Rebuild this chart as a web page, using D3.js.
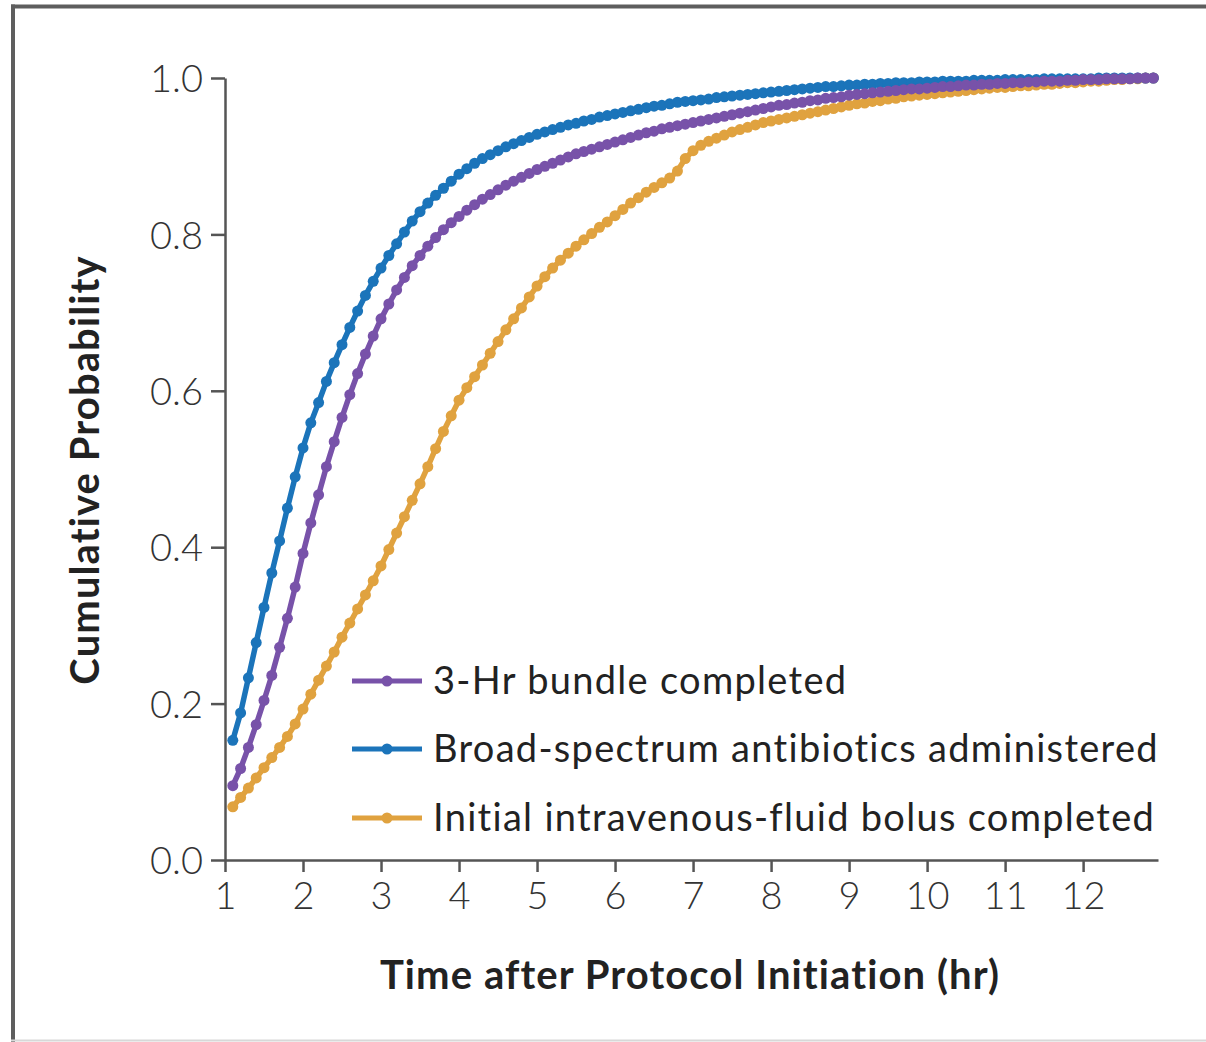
<!DOCTYPE html>
<html>
<head>
<meta charset="utf-8">
<script src="https://cdn.jsdelivr.net/npm/d3@7"></script>
<style>
  html, body { margin: 0; padding: 0; background: #fff; }
  svg { display: block; }
</style>
</head>
<body>
<div id="canvas"></div>
<script>
// hours after protocol initiation, one sample every 0.1 hr
const hours = [
  1.1, 1.2, 1.3, 1.4, 1.5, 1.6, 1.7, 1.8, 1.9,
  2.0, 2.1, 2.2, 2.3, 2.4, 2.5, 2.6, 2.7, 2.8, 2.9,
  3.0, 3.1, 3.2, 3.3, 3.4, 3.5, 3.6, 3.7, 3.8, 3.9,
  4.0, 4.1, 4.2, 4.3, 4.4, 4.5, 4.6, 4.7, 4.8, 4.9,
  5.0, 5.1, 5.2, 5.3, 5.4, 5.5, 5.6, 5.7, 5.8, 5.9,
  6.0, 6.1, 6.2, 6.3, 6.4, 6.5, 6.6, 6.7, 6.8, 6.9,
  7.0, 7.1, 7.2, 7.3, 7.4, 7.5, 7.6, 7.7, 7.8, 7.9,
  8.0, 8.1, 8.2, 8.3, 8.4, 8.5, 8.6, 8.7, 8.8, 8.9,
  9.0, 9.1, 9.2, 9.3, 9.4, 9.5, 9.6, 9.7, 9.8, 9.9,
  10.0, 10.1, 10.2, 10.3, 10.4, 10.5, 10.6, 10.7, 10.8, 10.9,
  11.0, 11.1, 11.2, 11.3, 11.4, 11.5, 11.6, 11.7, 11.8, 11.9,
  12.0, 12.1, 12.2, 12.3, 12.4, 12.5, 12.6, 12.7, 12.8, 12.9
];

const bundle = [
  .095, .117, .144, .173, .204, .236, .272, .309, .349,
  .392, .431, .467, .503, .535, .566, .595, .622, .647, .670,
  .692, .711, .729, .745, .760, .773, .785, .796, .806, .815,
  .823, .831, .838, .845, .851, .857, .863, .868, .873, .878,
  .883, .887, .891, .895, .899, .903, .906, .909, .912, .915,
  .918, .921, .924, .927, .930, .932, .935, .937, .939, .941,
  .943, .945, .947, .949, .951, .953, .955, .957, .959, .961,
  .963, .965, .966, .968, .969, .971, .972, .974, .975, .976,
  .978, .979, .980, .981, .982, .983, .984, .985, .986, .986,
  .987, .988, .989, .989, .990, .991, .991, .992, .992, .993,
  .993, .994, .994, .995, .995, .996, .996, .996, .997, .997,
  .998, .998, .998, .999, .999, .999, .999, 1, 1, 1
];

const antibiotics = [
  .153, .188, .233, .278, .323, .367, .408, .450, .490,
  .527, .559, .585, .612, .636, .659, .681, .702, .722, .740,
  .757, .773, .788, .803, .817, .829, .840, .850, .859, .868,
  .877, .884, .891, .897, .902, .907, .912, .916, .920, .924,
  .928, .931, .934, .937, .940, .942, .945, .947, .950, .952,
  .954, .956, .958, .960, .962, .964, .965, .967, .969, .970,
  .971, .972, .973, .975, .976, .977, .978, .979, .980, .981,
  .982, .983, .984, .985, .986, .987, .988, .989, .989, .990,
  .991, .991, .992, .992, .993, .993, .994, .994, .994, .995,
  .995, .995, .996, .996, .996, .996, .997, .997, .997, .997,
  .998, .998, .998, .998, .998, .999, .999, .999, .999, .999,
  .999, .999, 1, 1, 1, 1, 1, 1, 1, 1
];

const fluid = [
  .068, .080, .092, .105, .118, .131, .144, .158, .174,
  .193, .212, .230, .248, .266, .285, .303, .321, .339, .357,
  .376, .397, .418, .439, .460, .481, .503, .526, .548, .568,
  .588, .604, .618, .633, .648, .663, .678, .692, .706, .720,
  .734, .746, .757, .767, .776, .785, .793, .801, .809, .816,
  .824, .832, .840, .847, .854, .860, .866, .872, .881, .897,
  .907, .914, .919, .923, .927, .931, .934, .937, .940, .943,
  .945, .947, .949, .951, .953, .955, .957, .959, .961, .963,
  .965, .967, .968, .970, .971, .973, .974, .976, .977, .978,
  .979, .980, .981, .982, .983, .984, .985, .986, .987, .988,
  .988, .989, .990, .990, .991, .992, .992, .993, .994, .994,
  .995, .996, .996, .997, .998, .998, .999, .999, 1, 1
];

const seriesNames = [
  "3-Hr bundle completed",
  "Broad-spectrum antibiotics administered",
  "Initial intravenous-fluid bolus completed"
];
const seriesColors = ["#7852a9", "#1b74ba", "#e0a23f"];
const xTicks = [1, 2, 3, 4, 5, 6, 7, 8, 9, 10, 11, 12];
const yTicks = [0, 0.2, 0.4, 0.6, 0.8, 1.0];

const width = 1206;
const height = 1042;

const svg = d3.select("#canvas").append("svg")
  .attr("width", width)
  .attr("height", height);

// frame of the figure
svg.append("line").attr("x1", 11).attr("x2", width).attr("y1", 6.5).attr("y2", 6.5)
  .attr("stroke", "#5e5e5e").attr("stroke-width", 4);
svg.append("line").attr("x1", 13).attr("x2", 13).attr("y1", 4.5).attr("y2", height)
  .attr("stroke", "#5e5e5e").attr("stroke-width", 4);
svg.append("line").attr("x1", 11).attr("x2", width).attr("y1", 1040.5).attr("y2", 1040.5)
  .attr("stroke", "#d8d8d8").attr("stroke-width", 2);

const x = d3.scaleLinear().domain([1, 12.96]).range([225, 1158]);
const y = d3.scaleLinear().domain([0, 1]).range([860, 78]);

const tickFont = "Lato, 'Open Sans', sans-serif";

const yAxis = svg.append("g")
  .attr("transform", "translate(225,0)")
  .call(d3.axisLeft(y).tickValues(yTicks).tickFormat(d3.format(".1f"))
    .tickSize(14).tickSizeOuter(0).tickPadding(8));

const xAxis = svg.append("g")
  .attr("transform", "translate(0,860)")
  .call(d3.axisBottom(x).tickValues(xTicks).tickFormat(d3.format("d"))
    .tickSize(12).tickSizeOuter(0).tickPadding(10));

[yAxis, xAxis].forEach(a => {
  a.select(".domain").attr("stroke", "#555").attr("stroke-width", 2.5);
  a.selectAll(".tick line").attr("stroke", "#555").attr("stroke-width", 2.5);
  a.selectAll(".tick text")
    .attr("fill", "#333")
    .style("font-family", tickFont)
    .style("font-weight", 300)
    .style("font-size", "38px");
});
yAxis.selectAll(".tick text").attr("dy", "0.36em");
xAxis.selectAll(".tick text").attr("dy", "0.72em");

// axis titles
svg.append("text")
  .attr("x", 690).attr("y", 989)
  .attr("text-anchor", "middle")
  .attr("fill", "#222")
  .style("font-family", tickFont)
  .style("font-weight", 700)
  .style("font-size", "40px")
  .style("letter-spacing", "1.1px")
  .text("Time after Protocol Initiation (hr)");

svg.append("text")
  .attr("transform", "translate(99,470) rotate(-90)")
  .attr("text-anchor", "middle")
  .attr("fill", "#222")
  .style("font-family", tickFont)
  .style("font-weight", 700)
  .style("font-size", "40px")
  .style("letter-spacing", "1.1px")
  .text("Cumulative Probability");

// series, purple drawn last so it sits on top
const series = [
  {name: seriesNames[2], color: seriesColors[2], values: fluid},
  {name: seriesNames[1], color: seriesColors[1], values: antibiotics},
  {name: seriesNames[0], color: seriesColors[0], values: bundle}
];

const line = d3.line()
  .x((d, i) => x(hours[i]))
  .y(d => y(d));

const plot = svg.append("g");
series.forEach(s => {
  plot.append("path")
    .datum(s.values)
    .attr("fill", "none")
    .attr("stroke", s.color)
    .attr("stroke-width", 5.5)
    .attr("stroke-linejoin", "round")
    .attr("d", line);
  plot.selectAll(null)
    .data(s.values)
    .enter().append("circle")
    .attr("cx", (d, i) => x(hours[i]))
    .attr("cy", d => y(d))
    .attr("r", 5.5)
    .attr("fill", s.color);
});

// legend
const legend = svg.append("g");
const rowY = [681, 749, 818];
seriesNames.forEach((name, i) => {
  const g = legend.append("g").attr("transform", `translate(0,${rowY[i]})`);
  g.append("line").attr("x1", 352).attr("x2", 422).attr("y1", 0).attr("y2", 0)
    .attr("stroke", seriesColors[i]).attr("stroke-width", 5);
  g.append("circle").attr("cx", 387).attr("cy", 0).attr("r", 5.5).attr("fill", seriesColors[i]);
  g.append("text")
    .attr("x", 433).attr("y", 13)
    .attr("fill", "#222")
    .style("font-family", tickFont)
    .style("font-size", "38px")
    .style("letter-spacing", "1.3px")
    .text(name);
});
</script>
</body>
</html>
